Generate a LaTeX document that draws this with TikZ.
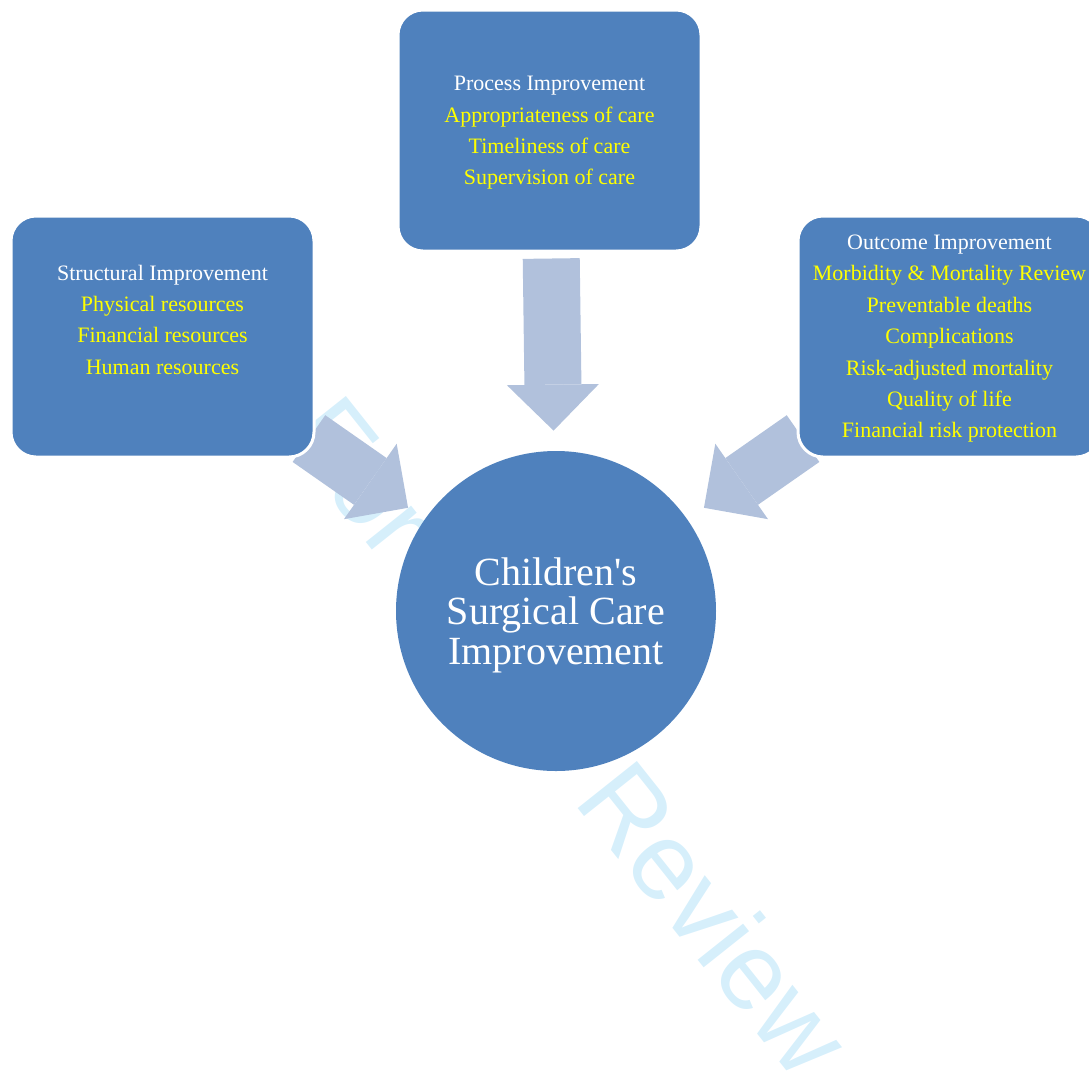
\documentclass[tikz,border=0pt]{standalone}
\usepackage{fontspec}
\setmainfont{Liberation Serif}
\newfontfamily\wmfont{Liberation Sans}
\usetikzlibrary{arrows.meta}

\definecolor{boxblue}{RGB}{79,129,189}
\definecolor{linkblue}{RGB}{177,193,220}
\definecolor{itemyellow}{RGB}{255,255,0}
\definecolor{wmcyan}{RGB}{214,239,251}

\pgfdeclarelayer{wmark}
\pgfdeclarelayer{links}
\pgfsetlayers{wmark,links,main}

\newcommand{\yl}[1]{\textcolor{itemyellow}{#1}}

\begin{document}
\begin{tikzpicture}[x=0.5pt,y=-0.5pt,
    panel/.style={rectangle, rounded corners=12.5pt, fill=boxblue, draw=white, line width=1.5pt,
      minimum width=151.5pt, minimum height=120.5pt, inner sep=0pt, align=center, text=white,
      text depth=0pt, font=\fontsize{11}{15.7}\selectfont},
    hub/.style={circle, fill=boxblue, minimum size=160pt, inner sep=0pt, align=center, text=white,
      text depth=0pt, font=\fontsize{20}{19.75}\selectfont},
    link/.style={draw=linkblue, line width=28.5pt,
      -{Triangle[width=46pt,length=23pt,line width=0pt,color=linkblue,fill=linkblue]}, shorten >=10pt},
    wmark/.style={anchor=base west, rotate=-51.5, text=wmcyan, inner sep=0pt,
      font=\wmfont\fontsize{55}{55}\selectfont}]
      \useasboundingbox (0,0) rectangle (1089,1084);
      \clip (0,0) rectangle (1089,1084);

      % the three panels and the centre
      \node[panel] (sbox) at (162.5,336.5) [text depth=17pt]
        {Structural Improvement\\ \yl{Physical resources}\\ \yl{Financial resources}\\ \yl{Human resources}};
      \node[panel] (pbox) at (549.5,130.5)
        {Process Improvement\\ \yl{Appropriateness of care}\\ \yl{Timeliness of care}\\ \yl{Supervision of care}};
      \node[panel] (obox) at (949.5,336.5)
        {Outcome Improvement\\ \yl{Morbidity \& Mortality Review}\\ \yl{Preventable deaths}\\ \yl{Complications}\\
         \yl{Risk-adjusted mortality}\\ \yl{Quality of life}\\ \yl{Financial risk protection}};
      \node[hub] (hub) at (556,611) {Children\textquotesingle s\\ Surgical Care\\ Improvement};

      \begin{pgfonlayer}{links}
        \draw[link, shorten <=-4pt] (sbox) -- (hub);
        \draw[link, shorten <=3pt] (pbox) -- (hub);
        \draw[link, shorten <=-4pt] (obox) -- (hub);
      \end{pgfonlayer}

      % watermark, behind everything
      \begin{pgfonlayer}{wmark}
        \node[wmark] (wmfor) at (281,436) {For};
        \node[wmark] (wmrev) at (572,801) {Review};
      \end{pgfonlayer}
    \end{tikzpicture}
\end{document}
